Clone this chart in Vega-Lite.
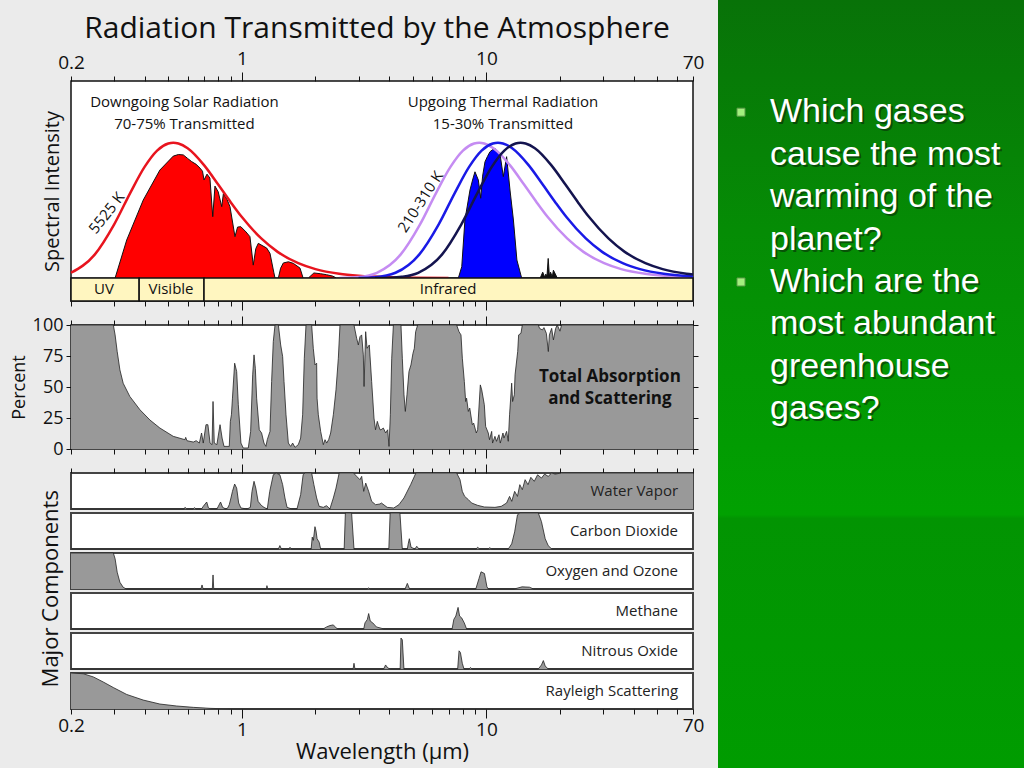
{
"$schema":"https://vega.github.io/schema/vega-lite/v6.json",
"background":"#ebebeb",
"padding":{"left":9,"right":0,"top":0,"bottom":0},
"config":{
 "font":"Open Sans",
 "view":{"stroke":null},
 "axis":{"labelFont":"Open Sans","titleFont":"Open Sans","labelColor":"#111","titleColor":"#111","tickColor":"#111","domain":false,"grid":false,"titleFontWeight":"normal","labelFontSize":19,"tickWidth":1},
 "title":{"font":"Open Sans","fontWeight":"normal","color":"#111"},
 "text":{"font":"Open Sans","color":"#111"}
},
"datasets":{
 "heading":[{"title":"Radiation Transmitted by the Atmosphere"}],
 "solarFill":[{"lam":0.2,"v":0},{"lam":0.303,"v":0},{"lam":0.338,"v":0.194},{"lam":0.395,"v":0.398},{"lam":0.462,"v":0.551},{"lam":0.524,"v":0.622},{"lam":0.55,"v":0.63},{"lam":0.576,"v":0.628},{"lam":0.6,"v":0.61},{"lam":0.623,"v":0.594},{"lam":0.65,"v":0.58},{"lam":0.674,"v":0.561},{"lam":0.69,"v":0.545},{"lam":0.7,"v":0.5},{"lam":0.72,"v":0.53},{"lam":0.74,"v":0.51},{"lam":0.76,"v":0.313},{"lam":0.776,"v":0.469},{"lam":0.8,"v":0.44},{"lam":0.827,"v":0.364},{"lam":0.84,"v":0.43},{"lam":0.87,"v":0.4},{"lam":0.894,"v":0.364},{"lam":0.937,"v":0.211},{"lam":0.96,"v":0.26},{"lam":0.99,"v":0.262},{"lam":1.04,"v":0.235},{"lam":1.079,"v":0.211},{"lam":1.113,"v":0.066},{"lam":1.14,"v":0.15},{"lam":1.167,"v":0.177},{"lam":1.263,"v":0.153},{"lam":1.303,"v":0.126},{"lam":1.35,"v":0.03},{"lam":1.366,"v":0},{"lam":1.41,"v":0},{"lam":1.44,"v":0.05},{"lam":1.477,"v":0.077},{"lam":1.55,"v":0.083},{"lam":1.623,"v":0.075},{"lam":1.728,"v":0.051},{"lam":1.78,"v":0},{"lam":1.869,"v":0},{"lam":1.97,"v":0.026},{"lam":2.1,"v":0.022},{"lam":2.22,"v":0.017},{"lam":2.35,"v":0.01},{"lam":2.44,"v":0},{"lam":70,"v":0}],
 "thermalFill":[{"lam":3,"v":0},{"lam":4.55,"v":0},{"lam":4.7,"v":0.012},{"lam":4.85,"v":0.008},{"lam":5.0,"v":0},{"lam":7.68,"v":0},{"lam":7.93,"v":0.058},{"lam":8.17,"v":0.296},{"lam":8.57,"v":0.449},{"lam":8.78,"v":0.5},{"lam":8.98,"v":0.542},{"lam":9.27,"v":0.5},{"lam":9.48,"v":0.407},{"lam":9.65,"v":0.52},{"lam":9.87,"v":0.593},{"lam":10.1,"v":0.62},{"lam":10.34,"v":0.644},{"lam":10.6,"v":0.655},{"lam":10.84,"v":0.662},{"lam":11.1,"v":0.64},{"lam":11.36,"v":0.636},{"lam":11.73,"v":0.517},{"lam":12.1,"v":0.619},{"lam":12.49,"v":0.449},{"lam":12.9,"v":0.296},{"lam":13.33,"v":0.092},{"lam":13.94,"v":0},{"lam":70,"v":0}],
 "thermalSpikes":[{"lam":16.6,"v":0},{"lam":17.0,"v":0.03},{"lam":17.3,"v":0.005},{"lam":17.5,"v":0.02},{"lam":17.7,"v":0.01},{"lam":17.9,"v":0.1},{"lam":18.1,"v":0.01},{"lam":18.3,"v":0.03},{"lam":18.6,"v":0.005},{"lam":18.8,"v":0.04},{"lam":19.5,"v":0}],
 "sunCurve":[{"lam":0.2,"v":0.027},{"lam":0.25,"v":0.1195},{"lam":0.3,"v":0.2726},{"lam":0.35,"v":0.436},{"lam":0.4,"v":0.567},{"lam":0.45,"v":0.65},{"lam":0.5,"v":0.686},{"lam":0.524,"v":0.69},{"lam":0.55,"v":0.686},{"lam":0.6,"v":0.662},{"lam":0.7,"v":0.576},{"lam":0.8,"v":0.477},{"lam":0.9,"v":0.387},{"lam":1.0,"v":0.311},{"lam":1.2,"v":0.202},{"lam":1.4,"v":0.1336},{"lam":1.7,"v":0.0757},{"lam":2.0,"v":0.0455},{"lam":2.5,"v":0.0218},{"lam":3,"v":0.0116},{"lam":4,"v":0.0041},{"lam":5,"v":0.0018},{"lam":7,"v":0.0006}],
 "earthCurves":[
  {"T":"310","lam":2.5,"v":0.0006},{"T":"310","lam":3.0,"v":0.0055},{"T":"310","lam":3.565,"v":0.027},{"T":"310","lam":4.456,"v":0.1195},{"T":"310","lam":5.347,"v":0.2726},{"T":"310","lam":6.238,"v":0.436},{"T":"310","lam":7.13,"v":0.567},{"T":"310","lam":8.02,"v":0.65},{"T":"310","lam":8.91,"v":0.686},{"T":"310","lam":9.35,"v":0.69},{"T":"310","lam":9.8,"v":0.686},{"T":"310","lam":10.69,"v":0.662},{"T":"310","lam":12.48,"v":0.576},{"T":"310","lam":14.26,"v":0.477},{"T":"310","lam":16.04,"v":0.387},{"T":"310","lam":17.82,"v":0.311},{"T":"310","lam":21.39,"v":0.202},{"T":"310","lam":24.95,"v":0.1336},{"T":"310","lam":30.3,"v":0.0757},{"T":"310","lam":35.6,"v":0.0455},{"T":"310","lam":44.6,"v":0.0218},{"T":"310","lam":53.5,"v":0.0116},{"T":"310","lam":70,"v":0.0044},
  {"T":"260","lam":3.0,"v":0.0007},{"T":"260","lam":3.5,"v":0.0043},{"T":"260","lam":4.25,"v":0.027},{"T":"260","lam":5.31,"v":0.1195},{"T":"260","lam":6.375,"v":0.2726},{"T":"260","lam":7.44,"v":0.436},{"T":"260","lam":8.5,"v":0.567},{"T":"260","lam":9.56,"v":0.65},{"T":"260","lam":10.63,"v":0.686},{"T":"260","lam":11.15,"v":0.69},{"T":"260","lam":11.69,"v":0.686},{"T":"260","lam":12.75,"v":0.662},{"T":"260","lam":14.88,"v":0.576},{"T":"260","lam":17.0,"v":0.477},{"T":"260","lam":19.13,"v":0.387},{"T":"260","lam":21.25,"v":0.311},{"T":"260","lam":25.5,"v":0.202},{"T":"260","lam":29.75,"v":0.1336},{"T":"260","lam":36.1,"v":0.0757},{"T":"260","lam":42.5,"v":0.0455},{"T":"260","lam":53.1,"v":0.0218},{"T":"260","lam":63.75,"v":0.0116},{"T":"260","lam":70,"v":0.0083},
  {"T":"210","lam":3.5,"v":0.0002},{"T":"210","lam":4.0,"v":0.0017},{"T":"210","lam":4.5,"v":0.0065},{"T":"210","lam":5.26,"v":0.027},{"T":"210","lam":6.58,"v":0.1195},{"T":"210","lam":7.89,"v":0.2726},{"T":"210","lam":9.21,"v":0.436},{"T":"210","lam":10.52,"v":0.567},{"T":"210","lam":11.84,"v":0.65},{"T":"210","lam":13.16,"v":0.686},{"T":"210","lam":13.8,"v":0.69},{"T":"210","lam":14.47,"v":0.686},{"T":"210","lam":15.79,"v":0.662},{"T":"210","lam":18.42,"v":0.576},{"T":"210","lam":21.05,"v":0.477},{"T":"210","lam":23.68,"v":0.387},{"T":"210","lam":26.31,"v":0.311},{"T":"210","lam":31.57,"v":0.202},{"T":"210","lam":36.8,"v":0.1336},{"T":"210","lam":44.7,"v":0.0757},{"T":"210","lam":52.6,"v":0.0455},{"T":"210","lam":65.8,"v":0.0218},{"T":"210","lam":70,"v":0.0176}],
 "bands":[{"band":"UV","lo":0.2,"hi":0.38,"mid":0.273},{"band":"Visible","lo":0.38,"hi":0.7,"mid":0.513},{"band":"Infrared","lo":0.7,"hi":70,"mid":6.97}],
 "notes":[{"panel":"top","text":"Downgoing Solar Radiation","lam":0.582,"v":0.898},{"panel":"top","text":"70-75% Transmitted","lam":0.582,"v":0.786},{"panel":"top","text":"Upgoing Thermal Radiation","lam":11.69,"v":0.898},{"panel":"top","text":"15-30% Transmitted","lam":11.69,"v":0.786},{"panel":"sun","text":"5525 K","lam":0.28,"v":0.332},{"panel":"earth","text":"210-310 K","lam":5.38,"v":0.389},{"panel":"pct","text":"Total Absorption","lam":32,"v":58},{"panel":"pct","text":"and Scattering","lam":32,"v":40.3}],
 "total":[{"lam":0.2,"pct":100},{"lam":0.298,"pct":100},{"lam":0.303,"pct":92},{"lam":0.309,"pct":78.6},{"lam":0.317,"pct":63.8},{"lam":0.327,"pct":53},{"lam":0.348,"pct":42.4},{"lam":0.383,"pct":31.6},{"lam":0.421,"pct":23.3},{"lam":0.462,"pct":16.9},{"lam":0.524,"pct":10.2},{"lam":0.585,"pct":7.5},{"lam":0.589,"pct":9.4},{"lam":0.596,"pct":6.7},{"lam":0.633,"pct":5.6},{"lam":0.65,"pct":6.7},{"lam":0.67,"pct":4.8},{"lam":0.684,"pct":12.9},{"lam":0.695,"pct":4.8},{"lam":0.713,"pct":19.6},{"lam":0.726,"pct":19.6},{"lam":0.741,"pct":4.8},{"lam":0.755,"pct":3.5},{"lam":0.762,"pct":38.3},{"lam":0.771,"pct":4.8},{"lam":0.79,"pct":3.5},{"lam":0.814,"pct":19.6},{"lam":0.83,"pct":8.8},{"lam":0.845,"pct":2.1},{"lam":0.888,"pct":2.1},{"lam":0.897,"pct":22.3},{"lam":0.906,"pct":27.6},{"lam":0.915,"pct":41},{"lam":0.934,"pct":69.2},{"lam":0.952,"pct":62.5},{"lam":0.967,"pct":35.7},{"lam":0.991,"pct":4.8},{"lam":1.013,"pct":0.8},{"lam":1.062,"pct":0.8},{"lam":1.086,"pct":14.2},{"lam":1.107,"pct":59.8},{"lam":1.121,"pct":75.9},{"lam":1.135,"pct":65.1},{"lam":1.149,"pct":41},{"lam":1.178,"pct":15.5},{"lam":1.204,"pct":12.9},{"lam":1.231,"pct":4.8},{"lam":1.254,"pct":2.1},{"lam":1.27,"pct":7.5},{"lam":1.303,"pct":14.2},{"lam":1.323,"pct":54.4},{"lam":1.344,"pct":86.6},{"lam":1.366,"pct":100},{"lam":1.41,"pct":100},{"lam":1.441,"pct":83.9},{"lam":1.468,"pct":74.5},{"lam":1.487,"pct":54.4},{"lam":1.515,"pct":27.6},{"lam":1.549,"pct":4.8},{"lam":1.583,"pct":2.1},{"lam":1.613,"pct":4.8},{"lam":1.649,"pct":1.3},{"lam":1.701,"pct":3.5},{"lam":1.739,"pct":8.8},{"lam":1.772,"pct":27.6},{"lam":1.8,"pct":73.2},{"lam":1.829,"pct":100},{"lam":1.929,"pct":100},{"lam":1.959,"pct":81.2},{"lam":1.991,"pct":67.8},{"lam":2.022,"pct":69.2},{"lam":2.03,"pct":41},{"lam":2.054,"pct":27.6},{"lam":2.1,"pct":14.2},{"lam":2.153,"pct":3.5},{"lam":2.188,"pct":7.5},{"lam":2.222,"pct":4.8},{"lam":2.264,"pct":7.5},{"lam":2.307,"pct":12.9},{"lam":2.366,"pct":27.6},{"lam":2.426,"pct":47.7},{"lam":2.48,"pct":73.2},{"lam":2.519,"pct":100},{"lam":2.874,"pct":100},{"lam":2.947,"pct":89.3},{"lam":2.994,"pct":83.9},{"lam":3.041,"pct":90.6},{"lam":3.089,"pct":92},{"lam":3.138,"pct":75.9},{"lam":3.16,"pct":50.4},{"lam":3.208,"pct":94.6},{"lam":3.25,"pct":81.2},{"lam":3.32,"pct":83.9},{"lam":3.394,"pct":54.4},{"lam":3.47,"pct":24.9},{"lam":3.52,"pct":15.5},{"lam":3.58,"pct":22.3},{"lam":3.614,"pct":19.6},{"lam":3.672,"pct":15.5},{"lam":3.707,"pct":15.5},{"lam":3.789,"pct":16.9},{"lam":3.873,"pct":12.9},{"lam":3.947,"pct":15.5},{"lam":3.997,"pct":2.1},{"lam":4.048,"pct":27.6},{"lam":4.1,"pct":73.2},{"lam":4.165,"pct":100},{"lam":4.474,"pct":100},{"lam":4.531,"pct":73.2},{"lam":4.603,"pct":43.7},{"lam":4.661,"pct":30.3},{"lam":4.734,"pct":43.7},{"lam":4.824,"pct":62.5},{"lam":4.915,"pct":67.8},{"lam":5.009,"pct":77.2},{"lam":5.073,"pct":81.2},{"lam":5.137,"pct":94.6},{"lam":5.235,"pct":100},{"lam":7.556,"pct":100},{"lam":7.727,"pct":94.6},{"lam":7.873,"pct":92},{"lam":7.973,"pct":73.2},{"lam":8.125,"pct":54.4},{"lam":8.227,"pct":38.3},{"lam":8.3,"pct":41},{"lam":8.436,"pct":30.3},{"lam":8.55,"pct":33},{"lam":8.76,"pct":19.6},{"lam":8.87,"pct":20.9},{"lam":9.095,"pct":12.9},{"lam":9.21,"pct":15.5},{"lam":9.445,"pct":51.7},{"lam":9.57,"pct":47.7},{"lam":9.808,"pct":35.7},{"lam":9.93,"pct":18.2},{"lam":10.18,"pct":12.9},{"lam":10.3,"pct":7.5},{"lam":10.51,"pct":14.2},{"lam":10.6,"pct":4.8},{"lam":10.84,"pct":10.2},{"lam":11.0,"pct":6.2},{"lam":11.26,"pct":11.5},{"lam":11.4,"pct":4.8},{"lam":11.69,"pct":12.9},{"lam":11.8,"pct":8.8},{"lam":12.1,"pct":14.2},{"lam":12.29,"pct":6.2},{"lam":12.44,"pct":27.6},{"lam":12.69,"pct":53.1},{"lam":12.8,"pct":38.3},{"lam":13.01,"pct":43.7},{"lam":13.1,"pct":59.8},{"lam":13.43,"pct":78.6},{"lam":13.55,"pct":92},{"lam":13.85,"pct":93.3},{"lam":14.03,"pct":100},{"lam":16.31,"pct":100},{"lam":16.5,"pct":97.3},{"lam":16.94,"pct":96},{"lam":17.2,"pct":97.9},{"lam":17.59,"pct":93.3},{"lam":17.92,"pct":78.6},{"lam":18.1,"pct":92},{"lam":18.49,"pct":97.3},{"lam":18.8,"pct":88},{"lam":19.2,"pct":97.3},{"lam":19.5,"pct":100},{"lam":20.0,"pct":95},{"lam":20.3,"pct":100},{"lam":70,"pct":100}],
 "wv":[{"lam":0.2,"pct":0},{"lam":0.58,"pct":0},{"lam":0.585,"pct":4.6},{"lam":0.595,"pct":0},{"lam":0.63,"pct":0},{"lam":0.64,"pct":3.7},{"lam":0.65,"pct":0},{"lam":0.684,"pct":0},{"lam":0.695,"pct":7.4},{"lam":0.718,"pct":19.4},{"lam":0.73,"pct":2.8},{"lam":0.745,"pct":0},{"lam":0.79,"pct":0},{"lam":0.801,"pct":7.4},{"lam":0.818,"pct":19.4},{"lam":0.834,"pct":4.6},{"lam":0.86,"pct":0},{"lam":0.875,"pct":3},{"lam":0.888,"pct":12},{"lam":0.902,"pct":30.6},{"lam":0.915,"pct":49},{"lam":0.934,"pct":69.4},{"lam":0.952,"pct":58},{"lam":0.97,"pct":16.7},{"lam":0.991,"pct":2.8},{"lam":1.05,"pct":0},{"lam":1.083,"pct":4.6},{"lam":1.1,"pct":49},{"lam":1.121,"pct":76.9},{"lam":1.14,"pct":58},{"lam":1.165,"pct":21.3},{"lam":1.2,"pct":10.2},{"lam":1.231,"pct":4.6},{"lam":1.27,"pct":0},{"lam":1.3,"pct":49},{"lam":1.344,"pct":95},{"lam":1.38,"pct":100},{"lam":1.43,"pct":95},{"lam":1.468,"pct":67.6},{"lam":1.5,"pct":30.6},{"lam":1.53,"pct":4.6},{"lam":1.6,"pct":0},{"lam":1.68,"pct":0},{"lam":1.739,"pct":39.8},{"lam":1.78,"pct":95},{"lam":1.81,"pct":100},{"lam":1.929,"pct":100},{"lam":1.97,"pct":67.6},{"lam":2.022,"pct":30.6},{"lam":2.07,"pct":7.4},{"lam":2.153,"pct":4.6},{"lam":2.22,"pct":9.3},{"lam":2.29,"pct":0},{"lam":2.366,"pct":30.6},{"lam":2.426,"pct":58},{"lam":2.5,"pct":100},{"lam":2.86,"pct":100},{"lam":2.947,"pct":90.7},{"lam":3.04,"pct":81.5},{"lam":3.09,"pct":90.7},{"lam":3.15,"pct":49},{"lam":3.21,"pct":72},{"lam":3.3,"pct":49},{"lam":3.394,"pct":21.3},{"lam":3.52,"pct":12},{"lam":3.672,"pct":13.9},{"lam":3.72,"pct":16.7},{"lam":3.93,"pct":4.6},{"lam":4.18,"pct":2.8},{"lam":4.39,"pct":12},{"lam":4.6,"pct":30.6},{"lam":4.9,"pct":67.6},{"lam":5.15,"pct":100},{"lam":7.556,"pct":100},{"lam":7.8,"pct":81.5},{"lam":7.97,"pct":49},{"lam":8.15,"pct":35},{"lam":8.44,"pct":26},{"lam":8.7,"pct":16.7},{"lam":9.2,"pct":10.2},{"lam":9.8,"pct":5.6},{"lam":10.84,"pct":4.6},{"lam":11.5,"pct":7.4},{"lam":12.1,"pct":16.7},{"lam":12.44,"pct":35},{"lam":12.7,"pct":21.3},{"lam":13.05,"pct":49},{"lam":13.4,"pct":35},{"lam":13.7,"pct":67.6},{"lam":14.03,"pct":53.7},{"lam":14.4,"pct":81.5},{"lam":14.8,"pct":67.6},{"lam":15.2,"pct":88},{"lam":15.7,"pct":76.9},{"lam":16.2,"pct":95},{"lam":16.8,"pct":86},{"lam":17.3,"pct":97},{"lam":17.9,"pct":90.7},{"lam":18.5,"pct":100},{"lam":19.1,"pct":97},{"lam":20.3,"pct":100},{"lam":70,"pct":100}],
 "co2":[{"lam":0.2,"pct":0},{"lam":1.41,"pct":0},{"lam":1.43,"pct":9.5},{"lam":1.45,"pct":0},{"lam":1.56,"pct":0},{"lam":1.573,"pct":4.8},{"lam":1.59,"pct":0},{"lam":1.92,"pct":0},{"lam":1.94,"pct":33},{"lam":1.96,"pct":24},{"lam":1.99,"pct":62},{"lam":2.01,"pct":50},{"lam":2.03,"pct":28.6},{"lam":2.07,"pct":19},{"lam":2.1,"pct":0},{"lam":2.62,"pct":0},{"lam":2.65,"pct":100},{"lam":2.81,"pct":100},{"lam":2.874,"pct":0},{"lam":3.99,"pct":0},{"lam":4.04,"pct":100},{"lam":4.43,"pct":100},{"lam":4.53,"pct":0},{"lam":4.75,"pct":0},{"lam":4.79,"pct":14.3},{"lam":4.84,"pct":28.6},{"lam":4.92,"pct":4.8},{"lam":5.1,"pct":0},{"lam":5.19,"pct":7.6},{"lam":5.3,"pct":0},{"lam":9.1,"pct":0},{"lam":9.2,"pct":4.8},{"lam":9.4,"pct":0},{"lam":10.2,"pct":0},{"lam":10.3,"pct":3.8},{"lam":10.5,"pct":0},{"lam":12.29,"pct":0},{"lam":12.69,"pct":14.3},{"lam":13.05,"pct":47.6},{"lam":13.4,"pct":95},{"lam":13.7,"pct":100},{"lam":16.31,"pct":100},{"lam":16.8,"pct":76},{"lam":17.4,"pct":28.6},{"lam":17.9,"pct":9.5},{"lam":18.5,"pct":0},{"lam":70,"pct":0}],
 "o3":[{"lam":0.2,"pct":100},{"lam":0.298,"pct":100},{"lam":0.303,"pct":84},{"lam":0.309,"pct":46.7},{"lam":0.317,"pct":18.7},{"lam":0.327,"pct":4.7},{"lam":0.337,"pct":0},{"lam":0.68,"pct":0},{"lam":0.687,"pct":11.2},{"lam":0.694,"pct":0},{"lam":0.757,"pct":0},{"lam":0.762,"pct":39},{"lam":0.767,"pct":0},{"lam":1.26,"pct":0},{"lam":1.266,"pct":9.3},{"lam":1.275,"pct":0},{"lam":3.25,"pct":0},{"lam":3.3,"pct":3},{"lam":3.35,"pct":0},{"lam":4.65,"pct":0},{"lam":4.75,"pct":15.6},{"lam":4.85,"pct":0},{"lam":9.05,"pct":0},{"lam":9.33,"pct":29.4},{"lam":9.51,"pct":47.7},{"lam":9.82,"pct":43},{"lam":10.05,"pct":6.4},{"lam":10.18,"pct":0},{"lam":13,"pct":0},{"lam":14,"pct":6},{"lam":15,"pct":5},{"lam":15.6,"pct":0},{"lam":70,"pct":0}],
 "ch4":[{"lam":0.2,"pct":0},{"lam":2.15,"pct":0},{"lam":2.22,"pct":5.7},{"lam":2.29,"pct":9.5},{"lam":2.366,"pct":11.4},{"lam":2.43,"pct":2.9},{"lam":2.47,"pct":0},{"lam":3.15,"pct":0},{"lam":3.188,"pct":17},{"lam":3.26,"pct":26.7},{"lam":3.3,"pct":42.9},{"lam":3.35,"pct":22},{"lam":3.43,"pct":17},{"lam":3.55,"pct":5.7},{"lam":3.72,"pct":2},{"lam":3.8,"pct":0},{"lam":7.24,"pct":0},{"lam":7.36,"pct":26.7},{"lam":7.5,"pct":36},{"lam":7.66,"pct":60},{"lam":7.77,"pct":36},{"lam":7.92,"pct":31},{"lam":8.12,"pct":17},{"lam":8.3,"pct":0},{"lam":70,"pct":0}],
 "n2o":[{"lam":0.2,"pct":0},{"lam":2.85,"pct":0},{"lam":2.874,"pct":15.9},{"lam":2.9,"pct":0},{"lam":3.8,"pct":0},{"lam":3.87,"pct":11.2},{"lam":3.95,"pct":3},{"lam":4.05,"pct":0},{"lam":4.44,"pct":0},{"lam":4.474,"pct":86},{"lam":4.53,"pct":81},{"lam":4.6,"pct":0},{"lam":7.63,"pct":0},{"lam":7.73,"pct":50.5},{"lam":7.83,"pct":45.8},{"lam":7.97,"pct":15.9},{"lam":8.1,"pct":0},{"lam":8.5,"pct":0},{"lam":8.6,"pct":4},{"lam":8.75,"pct":0},{"lam":16.3,"pct":0},{"lam":16.8,"pct":11.2},{"lam":17.1,"pct":23.4},{"lam":17.4,"pct":8.4},{"lam":17.9,"pct":0},{"lam":70,"pct":0}],
 "ray":[{"lam":0.2,"pct":100},{"lam":0.2245,"pct":98},{"lam":0.247,"pct":89},{"lam":0.271,"pct":75},{"lam":0.298,"pct":59.6},{"lam":0.338,"pct":40.4},{"lam":0.395,"pct":24.8},{"lam":0.462,"pct":13.8},{"lam":0.541,"pct":8.3},{"lam":0.633,"pct":4.6},{"lam":0.741,"pct":1.8},{"lam":0.915,"pct":0},{"lam":70,"pct":0}],
 "slide":[{"line":1,"text":"Which gases","bullet":true},{"line":2,"text":"cause the most","bullet":false},{"line":3,"text":"warming of the","bullet":false},{"line":4,"text":"planet?","bullet":false},{"line":5,"text":"Which are the","bullet":true},{"line":6,"text":"most abundant","bullet":false},{"line":7,"text":"greenhouse","bullet":false},{"line":8,"text":"gases?","bullet":false}]
},
"spacing":13,
"hconcat":[
 {
  "spacing":24,
  "bounds":"flush",
  "vconcat":[
   {
    "width":622,"height":57,
    "data":{"name":"heading"},
    "mark":{"type":"text","fontSize":30,"baseline":"middle","align":"center","color":"#111"},
    "encoding":{"x":{"datum":0.492,"type":"quantitative","scale":{"domain":[0,1]},"axis":null},"y":{"datum":0.5,"type":"quantitative","scale":{"domain":[0,1]},"axis":null},"text":{"field":"title"}}
   },
   {
    "width":622,"height":220,
    "view":{"fill":"white","stroke":"#111","strokeWidth":1.5},
    "resolve":{"axis":{"x":"independent","y":"independent"}},
    "layer":[
     {"data":{"name":"solarFill"},"mark":{"type":"area","color":"#ff0000","opacity":1,"line":{"color":"#111","strokeWidth":1}},
      "encoding":{
       "x":{"field":"lam","type":"quantitative","scale":{"type":"log","domain":[0.2,70],"nice":false},
            "axis":{"orient":"top","values":[0.2,0.3,0.4,0.5,0.6,0.7,0.8,0.9,1,2,3,4,5,6,7,8,9,10,20,30,40,50,60,70],"labelExpr":"datum.value===0.2?'0.2':datum.value===1?'1':datum.value===10?'10':datum.value===70?'70':''","labelFlush":false,"labelOverlap":false,"labelBound":false,"labelFontSize":19,"labelPadding":4,"tickSize":{"condition":{"test":"datum.value===1||datum.value===10","value":9},"value":5},"title":null}},
       "y":{"field":"v","type":"quantitative","scale":{"domain":[-0.117,1.005],"nice":false,"zero":false},"axis":{"title":"Spectral Intensity","labels":false,"ticks":false,"titleFontSize":20,"titlePadding":9}},
       "y2":{"datum":0}}},
     {"data":{"name":"thermalFill"},"mark":{"type":"area","color":"#0000ff","opacity":1,"line":{"color":"#111","strokeWidth":1}},
      "encoding":{"x":{"field":"lam","type":"quantitative","axis":null},"y":{"field":"v","type":"quantitative","axis":null},"y2":{"datum":0}}},
     {"data":{"name":"thermalSpikes"},"mark":{"type":"area","color":"#111","opacity":1,"line":{"color":"#111","strokeWidth":1}},
      "encoding":{"x":{"field":"lam","type":"quantitative","axis":null},"y":{"field":"v","type":"quantitative","axis":null},"y2":{"datum":0}}},
     {"data":{"name":"sunCurve"},"mark":{"type":"line","color":"#e8141e","strokeWidth":2.5,"interpolate":"monotone"},
      "encoding":{"x":{"field":"lam","type":"quantitative","axis":null},"y":{"field":"v","type":"quantitative","axis":null}}},
     {"data":{"name":"earthCurves"},"mark":{"type":"line","strokeWidth":2.5,"interpolate":"monotone"},
      "encoding":{"x":{"field":"lam","type":"quantitative","axis":null},"y":{"field":"v","type":"quantitative","axis":null},
       "color":{"field":"T","type":"nominal","scale":{"domain":["310","260","210"],"range":["#c58cf2","#1a1ae6","#14144f"]},"legend":null}}},
     {"data":{"name":"bands"},"mark":{"type":"rect","fill":"#fff6c0","stroke":"#111","strokeWidth":1.5},
      "encoding":{"x":{"field":"lo","type":"quantitative",
            "axis":{"orient":"bottom","values":[0.2,0.3,0.4,0.5,0.6,0.7,0.8,0.9,1,2,3,4,5,6,7,8,9,10,20,30,40,50,60,70],"labels":false,"tickSize":{"condition":{"test":"datum.value===1||datum.value===10","value":9},"value":5},"title":null}},
       "x2":{"field":"hi"},"y":{"datum":0,"type":"quantitative","axis":null},"y2":{"datum":-0.117}}},
     {"data":{"name":"bands"},"mark":{"type":"text","fontSize":15,"baseline":"middle"},
      "encoding":{"x":{"field":"mid","type":"quantitative","axis":null},"y":{"datum":-0.058,"type":"quantitative","axis":null},"text":{"field":"band"}}},
     {"data":{"name":"notes"},"transform":[{"filter":"datum.panel==='top'"}],"mark":{"type":"text","fontSize":15,"baseline":"middle"},
      "encoding":{"x":{"field":"lam","type":"quantitative","axis":null},"y":{"field":"v","type":"quantitative","axis":null},"text":{"field":"text"}}},
     {"data":{"name":"notes"},"transform":[{"filter":"datum.panel==='sun'"}],"mark":{"type":"text","fontSize":15,"baseline":"middle","angle":-52},
      "encoding":{"x":{"field":"lam","type":"quantitative","axis":null},"y":{"field":"v","type":"quantitative","axis":null},"text":{"field":"text"}}},
     {"data":{"name":"notes"},"transform":[{"filter":"datum.panel==='earth'"}],"mark":{"type":"text","fontSize":15,"baseline":"middle","angle":-57},
      "encoding":{"x":{"field":"lam","type":"quantitative","axis":null},"y":{"field":"v","type":"quantitative","axis":null},"text":{"field":"text"}}}
    ]
   },
   {
    "width":622,"height":124,
    "view":{"fill":"white","stroke":"#111","strokeWidth":1.5},
    "resolve":{"axis":{"x":"independent","y":"independent"}},
    "layer":[
     {"data":{"name":"total"},"mark":{"type":"area","color":"#999999","opacity":1,"line":{"color":"#222","strokeWidth":0.8}},
      "encoding":{
       "x":{"field":"lam","type":"quantitative","scale":{"type":"log","domain":[0.2,70],"nice":false},
            "axis":{"orient":"top","values":[0.2,0.3,0.4,0.5,0.6,0.7,0.8,0.9,1,2,3,4,5,6,7,8,9,10,20,30,40,50,60,70],"labels":false,"tickSize":{"condition":{"test":"datum.value===1||datum.value===10","value":9},"value":5},"title":null}},
       "y":{"field":"pct","type":"quantitative","scale":{"domain":[0,100],"nice":false},"axis":{"orient":"left","values":[0,25,50,75,100],"title":"Percent","titleFontSize":18,"titlePadding":4,"tickSize":5,"labelPadding":3,"labelFontSize":18}},
       "y2":{"datum":0}}},
     {"data":{"name":"notes"},"transform":[{"filter":"datum.panel==='pct'"}],"mark":{"type":"text","fontSize":17,"fontWeight":"bold","baseline":"middle","color":"#111"},
      "encoding":{
       "x":{"field":"lam","type":"quantitative","axis":{"orient":"bottom","values":[0.2,0.3,0.4,0.5,0.6,0.7,0.8,0.9,1,2,3,4,5,6,7,8,9,10,20,30,40,50,60,70],"labels":false,"tickSize":{"condition":{"test":"datum.value===1||datum.value===10","value":9},"value":5},"title":null}},
       "y":{"field":"v","type":"quantitative","axis":{"orient":"right","values":[0,25,50,75,100],"labels":false,"tickSize":5,"title":null}},
       "text":{"field":"text"}}}
    ]
   },
   {
    "title":{"text":"Major Components","orient":"left","anchor":"middle","fontSize":22,"offset":-6,"dx":24},
    "spacing":4,
    "bounds":"flush",
    "vconcat":[
     {"width":622,"height":36,"view":{"fill":"white","stroke":"#444","strokeWidth":2},
      "resolve":{"axis":{"x":"independent","y":"independent"}},
      "layer":[
       {"data":{"name":"wv"},"mark":{"type":"area","color":"#999999","opacity":1,"line":{"color":"#222","strokeWidth":0.8}},
        "encoding":{"x":{"field":"lam","type":"quantitative","scale":{"type":"log","domain":[0.2,70],"nice":false},
              "axis":{"orient":"top","values":[0.2,0.3,0.4,0.5,0.6,0.7,0.8,0.9,1,2,3,4,5,6,7,8,9,10,20,30,40,50,60,70],"labels":false,"tickSize":{"condition":{"test":"datum.value===1||datum.value===10","value":9},"value":5},"title":null}},
         "y":{"field":"pct","type":"quantitative","scale":{"domain":[0,100],"nice":false},"axis":null},"y2":{"datum":0}}},
       {"data":{"values":[{"label":"Water Vapor"}]},"mark":{"type":"text","align":"right","baseline":"middle","fontSize":15,"color":"#222"},
        "encoding":{"x":{"datum":60.8,"type":"quantitative","axis":null},"y":{"datum":50,"type":"quantitative","axis":null},"text":{"field":"label"}}}
      ]},
     {"width":622,"height":36,"view":{"fill":"white","stroke":"#444","strokeWidth":2},
      "layer":[
       {"data":{"name":"co2"},"mark":{"type":"area","color":"#999999","opacity":1,"line":{"color":"#222","strokeWidth":0.8}},
        "encoding":{"x":{"field":"lam","type":"quantitative","scale":{"type":"log","domain":[0.2,70],"nice":false},"axis":null},
         "y":{"field":"pct","type":"quantitative","scale":{"domain":[0,100],"nice":false},"axis":null},"y2":{"datum":0}}},
       {"data":{"values":[{"label":"Carbon Dioxide"}]},"mark":{"type":"text","align":"right","baseline":"middle","fontSize":15,"color":"#222"},
        "encoding":{"x":{"datum":60.8,"type":"quantitative","axis":null},"y":{"datum":50,"type":"quantitative","axis":null},"text":{"field":"label"}}}
      ]},
     {"width":622,"height":36,"view":{"fill":"white","stroke":"#444","strokeWidth":2},
      "layer":[
       {"data":{"name":"o3"},"mark":{"type":"area","color":"#999999","opacity":1,"line":{"color":"#222","strokeWidth":0.8}},
        "encoding":{"x":{"field":"lam","type":"quantitative","scale":{"type":"log","domain":[0.2,70],"nice":false},"axis":null},
         "y":{"field":"pct","type":"quantitative","scale":{"domain":[0,100],"nice":false},"axis":null},"y2":{"datum":0}}},
       {"data":{"values":[{"label":"Oxygen and Ozone"}]},"mark":{"type":"text","align":"right","baseline":"middle","fontSize":15,"color":"#222"},
        "encoding":{"x":{"datum":60.8,"type":"quantitative","axis":null},"y":{"datum":50,"type":"quantitative","axis":null},"text":{"field":"label"}}}
      ]},
     {"width":622,"height":36,"view":{"fill":"white","stroke":"#444","strokeWidth":2},
      "layer":[
       {"data":{"name":"ch4"},"mark":{"type":"area","color":"#999999","opacity":1,"line":{"color":"#222","strokeWidth":0.8}},
        "encoding":{"x":{"field":"lam","type":"quantitative","scale":{"type":"log","domain":[0.2,70],"nice":false},"axis":null},
         "y":{"field":"pct","type":"quantitative","scale":{"domain":[0,100],"nice":false},"axis":null},"y2":{"datum":0}}},
       {"data":{"values":[{"label":"Methane"}]},"mark":{"type":"text","align":"right","baseline":"middle","fontSize":15,"color":"#222"},
        "encoding":{"x":{"datum":60.8,"type":"quantitative","axis":null},"y":{"datum":50,"type":"quantitative","axis":null},"text":{"field":"label"}}}
      ]},
     {"width":622,"height":36,"view":{"fill":"white","stroke":"#444","strokeWidth":2},
      "layer":[
       {"data":{"name":"n2o"},"mark":{"type":"area","color":"#999999","opacity":1,"line":{"color":"#222","strokeWidth":0.8}},
        "encoding":{"x":{"field":"lam","type":"quantitative","scale":{"type":"log","domain":[0.2,70],"nice":false},"axis":null},
         "y":{"field":"pct","type":"quantitative","scale":{"domain":[0,100],"nice":false},"axis":null},"y2":{"datum":0}}},
       {"data":{"values":[{"label":"Nitrous Oxide"}]},"mark":{"type":"text","align":"right","baseline":"middle","fontSize":15,"color":"#222"},
        "encoding":{"x":{"datum":60.8,"type":"quantitative","axis":null},"y":{"datum":50,"type":"quantitative","axis":null},"text":{"field":"label"}}}
      ]},
     {"width":622,"height":36,"view":{"fill":"white","stroke":"#444","strokeWidth":2},
      "resolve":{"axis":{"x":"independent","y":"independent"}},
      "layer":[
       {"data":{"name":"ray"},"mark":{"type":"area","color":"#999999","opacity":1,"line":{"color":"#222","strokeWidth":0.8}},
        "encoding":{"x":{"field":"lam","type":"quantitative","scale":{"type":"log","domain":[0.2,70],"nice":false},
              "axis":{"orient":"bottom","values":[0.2,0.3,0.4,0.5,0.6,0.7,0.8,0.9,1,2,3,4,5,6,7,8,9,10,20,30,40,50,60,70],"labelExpr":"datum.value===0.2?'0.2':datum.value===1?'1':datum.value===10?'10':datum.value===70?'70':''","labelFlush":false,"labelOverlap":false,"labelBound":false,"labelFontSize":19,"labelPadding":2,"tickSize":{"condition":{"test":"datum.value===1||datum.value===10","value":9},"value":5},"title":"Wavelength (μm)","titleFontSize":22,"titlePadding":2}},
         "y":{"field":"pct","type":"quantitative","scale":{"domain":[0,100],"nice":false},"axis":null},"y2":{"datum":0}}},
       {"data":{"values":[{"label":"Rayleigh Scattering"}]},"mark":{"type":"text","align":"right","baseline":"middle","fontSize":15,"color":"#222"},
        "encoding":{"x":{"datum":60.8,"type":"quantitative","axis":null},"y":{"datum":50,"type":"quantitative","axis":null},"text":{"field":"label"}}}
      ]}
    ]
   }
  ]
 },
 {
  "width":306,"height":768,
  "view":{"fill":{"gradient":"linear","x1":0,"y1":0,"x2":0,"y2":1,"stops":[{"offset":0,"color":"#087208"},{"offset":0.3,"color":"#058c05"},{"offset":0.67,"color":"#01a101"},{"offset":0.675,"color":"#029402"},{"offset":1,"color":"#009c00"}]},"stroke":null},
  "data":{"name":"slide"},
  "layer":[
   {"transform":[{"filter":"datum.bullet"}],"mark":{"type":"square","size":64,"fill":"#a2f07e","stroke":"#5b9a48","strokeWidth":1,"opacity":1},
    "encoding":{"x":{"datum":0,"type":"quantitative","scale":{"domain":[-0.7931,9.7586],"nice":false,"zero":false},"axis":null},
     "y":{"field":"line","type":"quantitative","scale":{"domain":[-1.6425,16.449],"nice":false,"zero":false,"reverse":true},"axis":null}}},
   {"mark":{"type":"text","align":"left","baseline":"middle","font":"Liberation Sans","fontSize":34,"fill":"#0a2a0a","fillOpacity":0.6,"dx":2,"dy":2},
    "encoding":{"x":{"datum":1,"type":"quantitative","axis":null},"y":{"field":"line","type":"quantitative","axis":null},"text":{"field":"text"}}},
   {"mark":{"type":"text","align":"left","baseline":"middle","font":"Liberation Sans","fontSize":34,"fill":"white"},
    "encoding":{"x":{"datum":1,"type":"quantitative","axis":null},"y":{"field":"line","type":"quantitative","axis":null},"text":{"field":"text"}}}
  ]
 }
]
}
